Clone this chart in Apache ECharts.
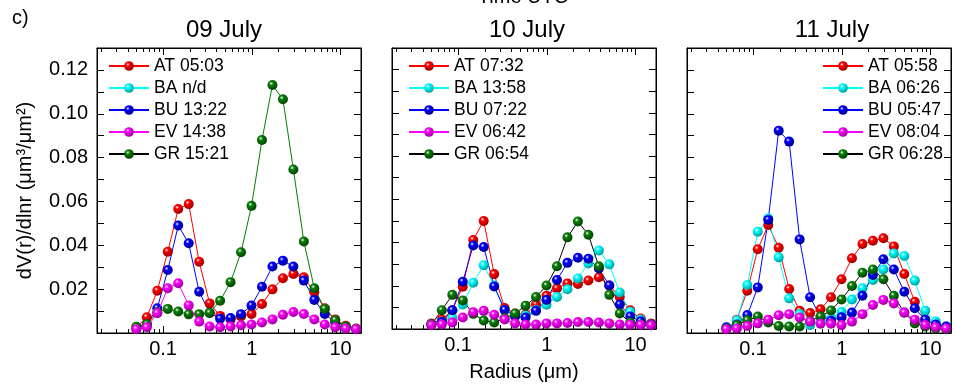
<!DOCTYPE html>
<html>
<head>
<meta charset="utf-8">
<script src="https://cdn.jsdelivr.net/npm/echarts@6.0.0/dist/echarts.min.js"></script>
<style>
  html, body { margin: 0; padding: 0; background: #fff; }
  #chart { width: 955px; height: 387px; }
</style>
</head>
<body>
<div id="chart"></div>
<script>
// AERONET size bins (radius, um)
const radii = [0.05, 0.065604, 0.086077, 0.112939, 0.148184, 0.194429, 0.255105, 0.334716,
  0.439173, 0.576227, 0.756052, 0.991996, 1.301571, 1.707757, 2.240702, 2.939966,
  3.857452, 5.06126, 6.640745, 8.713145, 11.432287, 15.0];

const dayTitles = ['09 July', '10 July', '11 July'];

// 09 July
const at09 = [0.0026, 0.0072, 0.0193, 0.0371, 0.0566, 0.0588, 0.0325, 0.0135, 0.0078, 0.0061, 0.0075, 0.0087, 0.0132, 0.0199, 0.025, 0.0269, 0.0254, 0.0186, 0.0113, 0.0062, 0.0033, 0.002];
const ba09 = [];
const bu09 = [0.0018, 0.0039, 0.0113, 0.0287, 0.049, 0.0409, 0.0188, 0.0091, 0.0065, 0.0068, 0.0086, 0.0125, 0.0211, 0.0303, 0.033, 0.0303, 0.0239, 0.0151, 0.0087, 0.0048, 0.0026, 0.0017];
const ev09 = [0.0017, 0.0026, 0.009, 0.0204, 0.0227, 0.0126, 0.0052, 0.003, 0.0026, 0.003, 0.0035, 0.0039, 0.0048, 0.0062, 0.0083, 0.0096, 0.0087, 0.0062, 0.0039, 0.0026, 0.002, 0.0017];
const gr09 = [0.0028, 0.004, 0.0095, 0.011, 0.0098, 0.0085, 0.0086, 0.0092, 0.0147, 0.0232, 0.0368, 0.058, 0.088, 0.1131, 0.1066, 0.0746, 0.0417, 0.0204, 0.011, 0.0058, 0.003, 0.0018];

// 10 July
const at10 = [0.0026, 0.0044, 0.0087, 0.0196, 0.0412, 0.05, 0.0254, 0.0097, 0.0072, 0.0067, 0.0113, 0.0154, 0.0188, 0.0211, 0.0208, 0.0224, 0.0239, 0.0201, 0.0148, 0.0087, 0.0048, 0.0026];
const ba10 = [0.0021, 0.0032, 0.0052, 0.0113, 0.0214, 0.0295, 0.0201, 0.0088, 0.0066, 0.0062, 0.0088, 0.0112, 0.0148, 0.0184, 0.0234, 0.0303, 0.0363, 0.0299, 0.0169, 0.008, 0.0044, 0.0021];
const bu10 = [0.0021, 0.0032, 0.0087, 0.0219, 0.0386, 0.0379, 0.0197, 0.0088, 0.0058, 0.0053, 0.0084, 0.0134, 0.0227, 0.0306, 0.033, 0.0325, 0.028, 0.0201, 0.0113, 0.0058, 0.0036, 0.0021];
const ev10 = [0.0017, 0.0021, 0.003, 0.0053, 0.0078, 0.0084, 0.0066, 0.0044, 0.0026, 0.0021, 0.0021, 0.0026, 0.0026, 0.0028, 0.0032, 0.0032, 0.003, 0.0026, 0.0021, 0.002, 0.0019, 0.0017];
const gr10 = [0.0021, 0.0087, 0.0158, 0.0132, 0.007, 0.0039, 0.003, 0.005, 0.0072, 0.0108, 0.0148, 0.0201, 0.029, 0.0424, 0.0497, 0.0436, 0.029, 0.0158, 0.0072, 0.003, 0.0021, 0.0017];

// 11 July
const at11 = [0.0017, 0.0061, 0.0193, 0.0382, 0.0493, 0.0389, 0.0201, 0.0102, 0.0091, 0.0108, 0.0163, 0.0245, 0.0341, 0.0406, 0.0421, 0.0432, 0.0395, 0.0269, 0.0142, 0.0061, 0.0036, 0.0021];
const ba11 = [0.0021, 0.0058, 0.0219, 0.0462, 0.0523, 0.0345, 0.0158, 0.0087, 0.0036, 0.0048, 0.0067, 0.0096, 0.0153, 0.0204, 0.0242, 0.029, 0.0363, 0.0351, 0.0239, 0.0102, 0.0052, 0.003];
const bu11 = [0.0026, 0.0039, 0.0082, 0.0208, 0.0516, 0.0923, 0.0873, 0.0427, 0.0163, 0.0074, 0.0056, 0.0072, 0.0093, 0.017, 0.0265, 0.0336, 0.029, 0.0188, 0.0113, 0.0061, 0.0039, 0.003];
const ev11 = [0.0017, 0.0021, 0.0032, 0.0044, 0.0061, 0.0081, 0.0086, 0.0071, 0.0052, 0.0042, 0.0042, 0.0036, 0.0052, 0.0086, 0.0128, 0.0151, 0.0135, 0.0093, 0.0061, 0.0036, 0.0026, 0.0021];
const gr11 = [0.0021, 0.0036, 0.0058, 0.0075, 0.0048, 0.0032, 0.003, 0.003, 0.0055, 0.0075, 0.0103, 0.0153, 0.0214, 0.0275, 0.029, 0.0245, 0.017, 0.0093, 0.0044, 0.003, 0.0021, 0.0017];

const legendNames = [
  ['AT 05:03', 'BA n/d', 'BU 13:22', 'EV 14:38', 'GR 15:21'],
  ['AT 07:32', 'BA 13:58', 'BU 07:22', 'EV 06:42', 'GR 06:54'],
  ['AT 05:58', 'BA 06:26', 'BU 05:47', 'EV 08:04', 'GR 06:28']
];
const panelData = [
  [at09, ba09, bu09, ev09, gr09],
  [at10, ba10, bu10, ev10, gr10],
  [at11, ba11, bu11, ev11, gr11]
];

const xMajor = [0.1, 1, 10];
const xMinor = [0.02, 0.03, 0.04, 0.05, 0.06, 0.07, 0.08, 0.09,
  0.2, 0.3, 0.4, 0.5, 0.6, 0.7, 0.8, 0.9, 2, 3, 4, 5, 6, 7, 8, 9];

const FONT = 'Liberation Sans, Arial, sans-serif';
const ballColors = ['#ff0000', '#00ffff', '#0000ff', '#ff00ff', '#0a800a'];
const ballDark = ['#9a0000', '#009a9a', '#00008a', '#980098', '#004000'];
const lineColors = [
  ['#ff0000', '#00ffff', '#0000ff', '#ff00ff', '#008000'],
  ['#ff0000', '#00ffff', '#0000ff', '#ff00ff', '#000000'],
  ['#ff0000', '#00ffff', '#0000ff', '#ff00ff', '#000000']
];

const gridLeft = [97, 392, 687];
const gridWidth = 264;
const gridTop = 48;
const gridHeight = 285;
const titleCenter = [224, 527, 832];
const legendLeft = [108, 408, 822];

function ball(i) {
  return new echarts.graphic.RadialGradient(0.38, 0.34, 0.68, [
    { offset: 0, color: '#ffffff' },
    { offset: 0.28, color: ballColors[i] },
    { offset: 1, color: ballDark[i] }
  ]);
}

const chart = echarts.init(document.getElementById('chart'), null, { renderer: 'canvas' });

const grid = [], xAxis = [], yAxis = [], series = [], legend = [], graphic = [];

for (let p = 0; p < 3; p++) {
  grid.push({
    left: gridLeft[p], top: gridTop, width: gridWidth, height: gridHeight,
    show: true, borderColor: '#000', borderWidth: 1, backgroundColor: 'transparent'
  });
  const base = { type: 'log', gridIndex: p, min: 0.018, max: 17, logBase: 10, splitLine: { show: false } };
  // bottom major (labels)
  xAxis.push(Object.assign({}, base, {
    position: 'bottom',
    axisLine: { show: true, lineStyle: { color: '#000' } },
    axisTick: { inside: true, length: 7, customValues: xMajor, lineStyle: { color: '#000' } },
    axisLabel: { customValues: xMajor, fontSize: 20, fontFamily: FONT, color: '#000', margin: 6 },
    name: p === 1 ? 'Radius (\u03bcm)' : '',
    nameLocation: 'middle', nameGap: 33,
    nameTextStyle: { fontSize: 20, fontFamily: FONT, color: '#000' }
  }));
  // bottom minor
  xAxis.push(Object.assign({}, base, {
    position: 'bottom',
    axisLine: { show: false },
    axisTick: { inside: true, length: 4, customValues: xMinor, lineStyle: { color: '#000' } },
    axisLabel: { show: false }
  }));
  // top major
  xAxis.push(Object.assign({}, base, {
    position: 'top',
    axisLine: { show: true, lineStyle: { color: '#000' } },
    axisTick: { inside: true, length: 7, customValues: xMajor, lineStyle: { color: '#000' } },
    axisLabel: { show: false }
  }));
  // top minor
  xAxis.push(Object.assign({}, base, {
    position: 'top',
    axisLine: { show: false },
    axisTick: { inside: true, length: 4, customValues: xMinor, lineStyle: { color: '#000' } },
    axisLabel: { show: false }
  }));

  yAxis.push({
    type: 'value', gridIndex: p, position: 'left', min: 0, max: 0.13, interval: 0.01,
    splitLine: { show: false },
    axisLine: { show: true, lineStyle: { color: '#000' } },
    axisTick: { inside: true, length: 7, lineStyle: { color: '#000' } },
    axisLabel: {
      show: p === 0, fontSize: 20, fontFamily: FONT, color: '#000', margin: 9,
      formatter: v => {
        const k = Math.round(v * 100);
        return (k > 0 && k % 2 === 0) ? (k / 100).toFixed(2) : '';
      }
    },
    name: p === 0 ? 'dV(r)/dlnr (\u03bcm\u00b3/\u03bcm\u00b2)' : '',
    nameLocation: 'middle', nameGap: 62, nameRotate: 90,
    nameTextStyle: { fontSize: 20, fontFamily: FONT, color: '#000' }
  });
  yAxis.push({
    type: 'value', gridIndex: p, position: 'right', min: 0, max: 0.13, interval: 0.01,
    splitLine: { show: false },
    axisLine: { show: true, lineStyle: { color: '#000' } },
    axisTick: { inside: true, length: 7, lineStyle: { color: '#000' } },
    axisLabel: { show: false }
  });

  const names = legendNames[p];
  const legendItems = [];
  for (let s = 0; s < 5; s++) {
    const vals = panelData[p][s];
    series.push({
      name: names[s],
      type: 'line',
      xAxisIndex: 4 * p,
      yAxisIndex: 2 * p,
      data: vals.map((v, i) => [radii[i], v]),
      symbol: 'circle',
      symbolSize: 10,
      showAllSymbol: true,
      animation: false,
      lineStyle: { color: lineColors[p][s], width: 1 },
      itemStyle: { color: ball(s) },
      z: s === 3 ? 4 : 3
    });
    const item = { name: names[s] };
    if (s === 4) item.lineStyle = { color: '#000' };
    legendItems.push(item);
  }
  legend.push({
    orient: 'vertical',
    left: legendLeft[p],
    top: 57,
    padding: 0,
    itemWidth: 40,
    itemHeight: 12,
    itemGap: 4,
    selectedMode: false,
    textStyle: { fontSize: 17.5, fontFamily: FONT, color: '#000', lineHeight: 18 },
    data: legendItems
  });

  graphic.push({
    type: 'text',
    x: titleCenter[p],
    y: 18,
    style: {
      text: dayTitles[p], fontSize: 24, fontFamily: FONT, fill: '#000',
      align: 'center', verticalAlign: 'top'
    }
  });
}

graphic.push({
  type: 'text', left: 12, top: 8,
  style: { text: 'c)', fontSize: 20, fontFamily: FONT, fill: '#000' }
});
graphic.push({
  type: 'text', x: 523, y: -13,
  style: { text: 'Time UTC', fontSize: 20, fontFamily: FONT, fill: '#000', align: 'center', verticalAlign: 'top' }
});

chart.setOption({
  animation: false,
  backgroundColor: '#fff',
  grid, xAxis, yAxis, series, legend, graphic
});
</script>
</body>
</html>
